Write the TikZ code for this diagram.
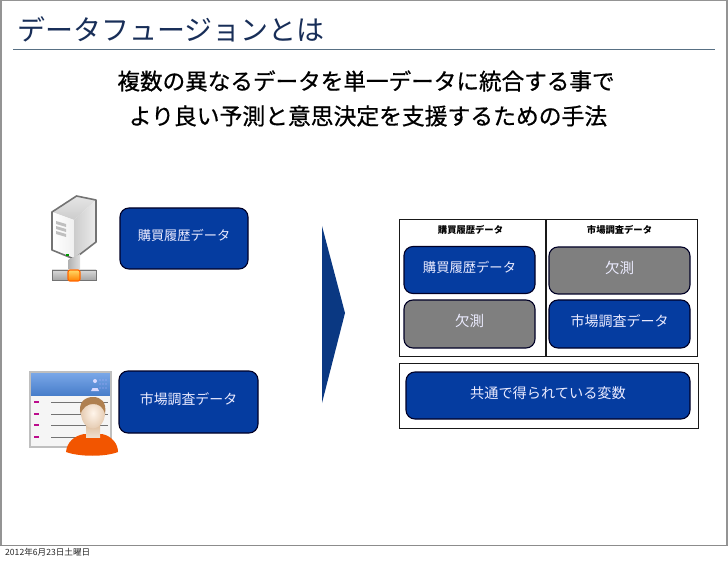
\documentclass[tikz,border=0pt]{standalone}
\usepackage{fontspec}
\setmainfont{Noto Sans CJK JP}
\newfontfamily\leadfont[FakeBold=0.7]{Noto Sans CJK JP}
\usetikzlibrary{arrows.meta}

\definecolor{boxblue}{RGB}{5,60,160}
\definecolor{boxgray}{RGB}{127,127,127}
\definecolor{arrowblue}{RGB}{10,56,130}
\definecolor{titleblue}{RGB}{24,46,88}
\definecolor{ruleblue}{RGB}{88,112,132}
\definecolor{cardblue}{RGB}{80,140,225}

\tikzset{
  databox/.style={draw=black!85!blue, line width=1.1pt, rounded corners=9pt, fill=boxblue,
    text=white!92!blue, inner sep=0pt, text height=12pt, text depth=7pt},
  lackbox/.style={databox, fill=boxgray},
  framebox/.style={draw=black!90, line width=1pt, inner sep=0pt},
  headtext/.style={font=\fontsize{9.3}{11}\selectfont\bfseries, inner sep=0pt},
  leadtext/.style={inner sep=0pt, text=black}
}

\begin{document}
\begin{tikzpicture}[x=1pt,y=-1pt]
  \useasboundingbox (0,0) rectangle (728,561);

  % Slide border
  \draw[black!42, line width=1.2pt] (1,546) -- (1,0.5) -- (727,0.5) -- (727,546);
  \draw[black!45, line width=1.8pt] (0,545.5) -- (728,545.5);

  % Title and lead text
  \node[anchor=west, inner sep=0pt, text=titleblue, font=\fontsize{28}{32}\selectfont] (title) at (17,29) {データフュージョンとは};
  \draw[ruleblue, line width=1.5pt] (13,49.5) -- (715,49.5);
  \node[leadtext, font=\leadfont\fontsize{22.6}{26}\selectfont] (leadone) at (366,81) {複数の異なるデータを単一データに統合する事で};
  \node[leadtext, font=\leadfont\fontsize{22.8}{26}\selectfont] (leadtwo) at (368,116) {より良い予測と意思決定を支援するための手法};

  % Source boxes
  \node[databox, minimum width=128pt, minimum height=61pt, font=\fontsize{13.2}{16}\selectfont] (buysrc) at (184,238.5) {購買履歴データ};
  \node[databox, minimum width=139pt, minimum height=62pt, font=\fontsize{13.9}{16}\selectfont] (marketsrc) at (188.5,402) {市場調査データ};

  % Big arrow
  \fill[arrowblue] (322,226) -- (345,313) -- (322,403) -- cycle;

  % Merged table
  \node[framebox, minimum width=146pt, minimum height=136pt] (buycol) at (472,288) {};
  \node[framebox, minimum width=151pt, minimum height=136pt] (marketcol) at (621.5,288) {};
  \node[framebox, minimum width=299pt, minimum height=65pt] (commonrow) at (548.5,395.5) {};
  \node[headtext] (buyhead) at (470.5,230) {購買履歴データ};
  \node[headtext] (markethead) at (619.5,230) {市場調査データ};
  \node[databox, minimum width=131pt, minimum height=47pt, font=\fontsize{13.3}{16}\selectfont] (buydata) at (469.5,270) {購買履歴データ};
  \node[lackbox, minimum width=131pt, minimum height=48pt, font=\fontsize{14.5}{16}\selectfont] (buylack) at (469.5,324) {欠測};
  \node[lackbox, minimum width=141pt, minimum height=47pt, font=\fontsize{14.5}{16}\selectfont] (marketlack) at (619.5,270.5) {欠測};
  \node[databox, minimum width=141pt, minimum height=48pt, font=\fontsize{14}{16}\selectfont] (marketdata) at (619.5,324) {市場調査データ};
  \node[databox, minimum width=284pt, minimum height=47pt, font=\fontsize{14.2}{16}\selectfont] (common) at (548,395.5) {共通で得られている変数};

  % Server icon
  \shade[top color=gray!20, bottom color=gray!40] (52,212) -- (76.5,196) -- (96,200) -- (74,220) -- cycle;
  \shade[left color=white, right color=gray!12] (52,212) -- (74,220) -- (74,259) -- (52,250) -- cycle;
  \shade[left color=gray!40, right color=gray!15] (74,220) -- (96,200) -- (96,242) -- (74,259) -- cycle;
  \draw[gray!90!black, line width=1.6pt, line join=round] (52,212) -- (76.5,196) -- (96,200) -- (96,242) -- (74,259) -- (52,250) -- cycle;
  \foreach \y in {221,226,231}
    \fill[gray!50] (56,\y) -- (66,\y+3) -- (66,\y+6) -- (56,\y+3) -- cycle;
  \fill[green!60!black] (66,254.5) rectangle (69,256.5);
  \shade[left color=gray!60, right color=gray!25] (68.5,259.5) -- (80,254) -- (80,270) -- (68.5,270) -- cycle;
  \shade[top color=gray!30, bottom color=gray!70] (52,270) rectangle (96,280);
  \draw[gray!90!black, line width=0.8pt] (52,270) rectangle (96,280);
  \shade[draw=orange!80!red, line width=1.2pt, rounded corners=2pt, top color=yellow!50!orange!60, bottom color=orange] (68,270) rectangle (80,281);

  % Survey card icon
  \fill[gray!8] (30,372) rectangle (111,447);
  \shade[top color=cardblue!75, bottom color=cardblue!90!black] (30,372) rectangle (111,395);
  \draw[gray!50, line width=1.1pt] (30,372) rectangle (111,447);
  \foreach \y in {402,414,425,437} {
    \fill[magenta!75!blue] (34,\y-1.4) rectangle (39,\y+1.4);
    \draw[gray!90!black, line width=1pt] (51,\y) -- (108,\y);
  }
  \fill[white!85!blue] (95,381) circle (2pt);
  \fill[white!85!blue] (92.5,388) -- (97.5,388) -- (99,391) -- (91,391) -- cycle;
  \foreach \x in {100,103,106}
    \foreach \y in {380,384,388}
      \fill[white!70!blue] (\x,\y) circle (0.6pt);

  % Person in front of the card
  \fill[orange!70!red!95!black] (66,452) .. controls (67,442) and (74,436) .. (84,434) -- (102,434) .. controls (112,436) and (118,444) .. (118,452) .. controls (105,457) and (80,457) .. (66,452) -- cycle;
  \shade[top color=brown!50, bottom color=brown!25] (86,425) rectangle (100,437);
  \shade[inner color=orange!8, outer color=brown!40] (93,413) ellipse (12pt and 15.5pt);
  \fill[brown!75!gray] (80.5,414) .. controls (78,402) and (85,397) .. (93,397) .. controls (101,397) and (107,402) .. (105,414) .. controls (103,406) and (98,404) .. (93,404) .. controls (88,404) and (83,407) .. (80.5,414) -- cycle;

  % Date
  \node[anchor=west, inner sep=0pt, text=black!85, font=\fontsize{8.6}{10}\selectfont] (datetext) at (5,552.5) {2012年6月23日土曜日};
\end{tikzpicture}
\end{document}
